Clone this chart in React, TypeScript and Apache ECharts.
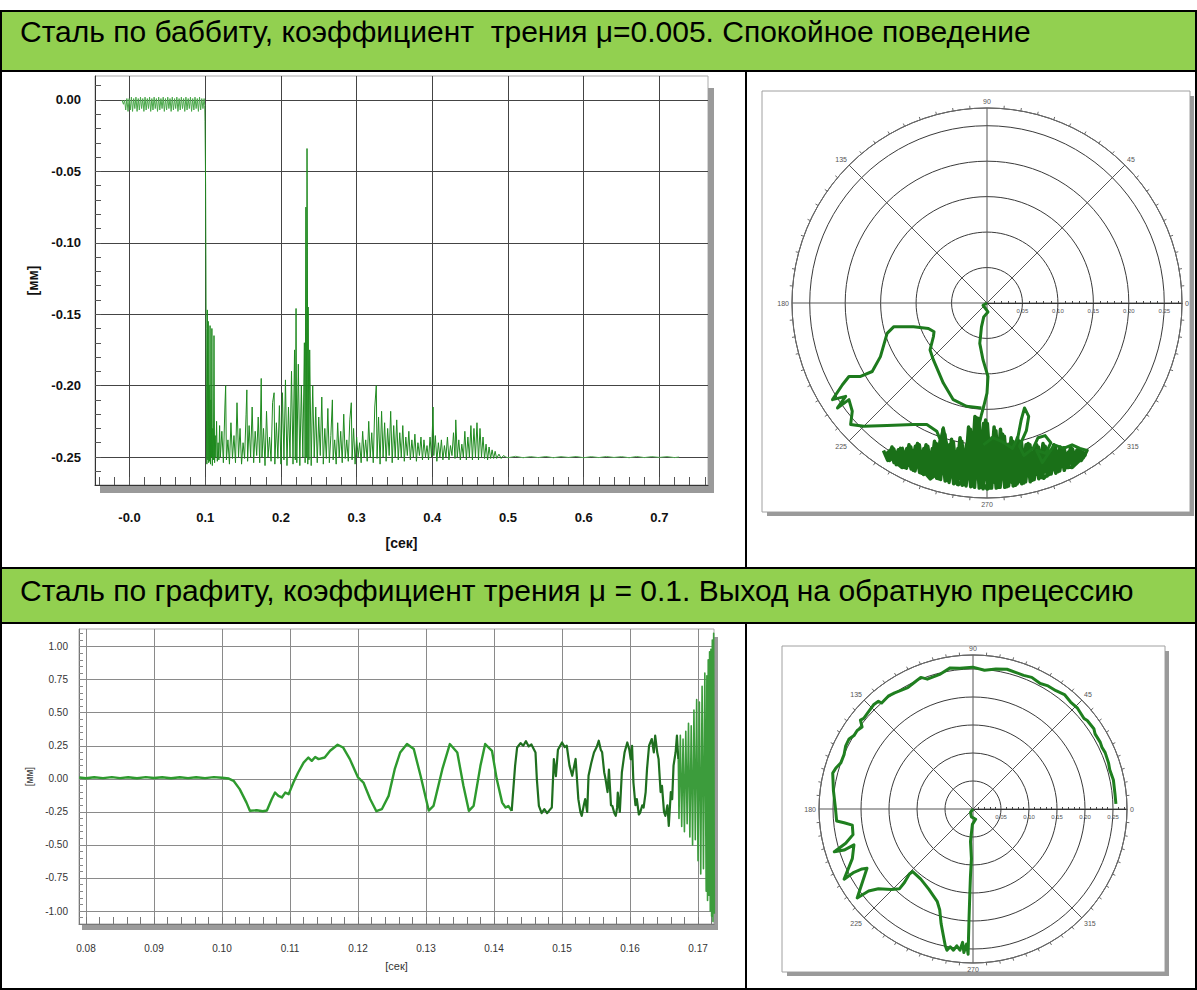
import React, { useEffect, useRef } from "react";
import * as echarts from "echarts";

// ---------- texts ----------
const headerTop = "Сталь по баббиту, коэффициент  трения μ=0.005. Спокойное поведение";
const headerBottom = "Сталь по графиту, коэффициент трения μ = 0.1. Выход на обратную прецессию";
const unitTime = "[сек]";
const unitMm = "[мм]";

// ---------- top-left chart ticks ----------
const topXTicks = [0, 0.1, 0.2, 0.3, 0.4, 0.5, 0.6, 0.7];
const topXLabels = ["-0.0", "0.1", "0.2", "0.3", "0.4", "0.5", "0.6", "0.7"];
const topXMinor = [-0.04, -0.02, 0, 0.02, 0.04, 0.06, 0.08, 0.1, 0.12, 0.14, 0.16, 0.18, 0.2, 0.22, 0.24, 0.26, 0.28, 0.3, 0.32, 0.34, 0.36, 0.38, 0.4, 0.42, 0.44, 0.46, 0.48, 0.5, 0.52, 0.54, 0.56, 0.58, 0.6, 0.62, 0.64, 0.66, 0.68, 0.7, 0.72, 0.74, 0.76];
const topYTicks = [0, -0.05, -0.1, -0.15, -0.2, -0.25];
const topYMinor = [0.01, 0, -0.01, -0.02, -0.03, -0.04, -0.05, -0.06, -0.07, -0.08, -0.09, -0.1, -0.11, -0.12, -0.13, -0.14, -0.15, -0.16, -0.17, -0.18, -0.19, -0.2, -0.21, -0.22, -0.23, -0.24, -0.25, -0.26];

// ---------- bottom-left chart ticks ----------
const botXTicks = [0.08, 0.09, 0.1, 0.11, 0.12, 0.13, 0.14, 0.15, 0.16, 0.17];
const botXMinor = [0.08, 0.082, 0.084, 0.086, 0.088, 0.09, 0.092, 0.094, 0.096, 0.098, 0.1, 0.102, 0.104, 0.106, 0.108, 0.11, 0.112, 0.114, 0.116, 0.118, 0.12, 0.122, 0.124, 0.126, 0.128, 0.13, 0.132, 0.134, 0.136, 0.138, 0.14, 0.142, 0.144, 0.146, 0.148, 0.15, 0.152, 0.154, 0.156, 0.158, 0.16, 0.162, 0.164, 0.166, 0.168, 0.17, 0.172];
const botYTicks = [1, 0.75, 0.5, 0.25, 0, -0.25, -0.5, -0.75, -1];
const botYMinor = [1.1, 1.05, 1, 0.95, 0.9, 0.85, 0.8, 0.75, 0.7, 0.65, 0.6, 0.55, 0.5, 0.45, 0.4, 0.35, 0.3, 0.25, 0.2, 0.15, 0.1, 0.05, 0, -0.05, -0.1, -0.15, -0.2, -0.25, -0.3, -0.35, -0.4, -0.45, -0.5, -0.55, -0.6, -0.65, -0.7, -0.75, -0.8, -0.85, -0.9, -0.95, -1, -1.05];

// ---------- polar ticks ----------
const radiusLabels = [0.05, 0.1, 0.15, 0.2, 0.25];

// ---------- top-left series (time [s], displacement [mm]) ----------
const topEarly: number[][] = [[-0.010,0.000],[-0.008,-0.003],[-0.0065,0.000],[-0.005,-0.007],[-0.0035,0.001],[-0.002,-0.008],[-0.0005,0.001],[0.001,-0.007],[0.0025,0.002],[0.004,-0.008],[0.0055,0.001],[0.007,-0.006],[0.0085,0.002],[0.010,-0.008],[0.0115,0.001],[0.013,-0.007],[0.0145,0.002],[0.016,-0.006],[0.0175,0.001],[0.019,-0.008],[0.0205,0.002],[0.022,-0.007],[0.0235,0.001],[0.025,-0.006],[0.0265,0.002],[0.028,-0.008],[0.0295,0.001],[0.031,-0.007],[0.0325,0.002],[0.034,-0.006],[0.0355,0.001],[0.037,-0.008],[0.0385,0.002],[0.040,-0.007],[0.0415,0.001],[0.043,-0.006],[0.0445,0.002],[0.046,-0.008],[0.0475,0.001],[0.049,-0.007],[0.0505,0.002],[0.052,-0.006],[0.0535,0.001],[0.055,-0.008],[0.0565,0.002],[0.058,-0.007],[0.0595,0.001],[0.061,-0.006],[0.0625,0.002],[0.064,-0.008],[0.0655,0.001],[0.067,-0.007],[0.0685,0.002],[0.070,-0.006],[0.0715,0.001],[0.073,-0.008],[0.0745,0.002],[0.076,-0.007],[0.0775,0.001],[0.079,-0.006],[0.0805,0.002],[0.082,-0.008],[0.0835,0.001],[0.085,-0.007],[0.0865,0.002],[0.088,-0.006],[0.0895,0.001],[0.091,-0.008],[0.0925,0.002],[0.094,-0.007],[0.0955,0.001],[0.097,-0.006],[0.0985,0.001],[0.0995,-0.004]];

const topMain: number[][] = [[0.0995,-0.004],[0.0998,-0.015],[0.1005,-0.06],[0.1012,-0.16],[0.1018,-0.25],[0.1022,-0.255],[0.1028,-0.147],[0.1034,-0.252],[0.104,-0.155],[0.1046,-0.254],[0.1052,-0.2],[0.1058,-0.253],[0.1064,-0.158],[0.107,-0.255],[0.1076,-0.21],[0.1082,-0.25],[0.1088,-0.16],[0.1094,-0.256],[0.11,-0.23],[0.1108,-0.252],[0.1116,-0.165],[0.1124,-0.254],[0.1132,-0.235],[0.114,-0.25],[0.115,-0.225],[0.116,-0.253],[0.117,-0.24],[0.118,-0.252],[0.119,-0.228],[0.120,-0.250],[0.122,-0.232],[0.124,-0.254],[0.126,-0.215],[0.127,-0.200],[0.128,-0.252],[0.130,-0.238],[0.132,-0.255],[0.134,-0.226],[0.136,-0.251],[0.138,-0.235],[0.140,-0.254],[0.142,-0.212],[0.144,-0.250],[0.146,-0.230],[0.148,-0.255],[0.150,-0.240],[0.152,-0.251],[0.154,-0.220],[0.155,-0.203],[0.156,-0.253],[0.158,-0.228],[0.160,-0.250],[0.162,-0.215],[0.164,-0.254],[0.166,-0.232],[0.168,-0.249],[0.170,-0.222],[0.172,-0.254],[0.174,-0.195],[0.175,-0.250],[0.177,-0.230],[0.179,-0.256],[0.181,-0.218],[0.183,-0.250],[0.185,-0.236],[0.187,-0.253],[0.189,-0.212],[0.191,-0.205],[0.192,-0.255],[0.194,-0.226],[0.196,-0.251],[0.198,-0.214],[0.200,-0.255],[0.202,-0.205],[0.204,-0.252],[0.206,-0.196],[0.208,-0.256],[0.210,-0.215],[0.212,-0.250],[0.214,-0.190],[0.216,-0.255],[0.218,-0.175],[0.219,-0.252],[0.220,-0.146],[0.221,-0.254],[0.223,-0.185],[0.225,-0.256],[0.227,-0.200],[0.229,-0.250],[0.231,-0.170],[0.232,-0.254],[0.233,-0.075],[0.2335,-0.250],[0.2345,-0.034],[0.235,-0.103],[0.2355,-0.255],[0.236,-0.145],[0.237,-0.252],[0.238,-0.175],[0.240,-0.256],[0.242,-0.200],[0.244,-0.250],[0.246,-0.215],[0.248,-0.254],[0.250,-0.222],[0.252,-0.249],[0.254,-0.208],[0.256,-0.255],[0.258,-0.230],[0.260,-0.251],[0.262,-0.216],[0.264,-0.254],[0.266,-0.235],[0.268,-0.210],[0.269,-0.252],[0.271,-0.238],[0.273,-0.255],[0.275,-0.226],[0.277,-0.250],[0.279,-0.232],[0.281,-0.254],[0.283,-0.220],[0.285,-0.251],[0.287,-0.238],[0.289,-0.253],[0.291,-0.224],[0.293,-0.212],[0.294,-0.252],[0.296,-0.230],[0.298,-0.255],[0.300,-0.236],[0.302,-0.250],[0.304,-0.240],[0.306,-0.254],[0.308,-0.232],[0.310,-0.250],[0.312,-0.238],[0.314,-0.253],[0.316,-0.225],[0.318,-0.250],[0.320,-0.233],[0.322,-0.254],[0.324,-0.215],[0.326,-0.200],[0.327,-0.251],[0.329,-0.222],[0.331,-0.255],[0.333,-0.218],[0.335,-0.250],[0.337,-0.226],[0.339,-0.253],[0.341,-0.230],[0.343,-0.249],[0.345,-0.218],[0.347,-0.254],[0.349,-0.228],[0.351,-0.250],[0.353,-0.224],[0.355,-0.252],[0.357,-0.233],[0.359,-0.250],[0.361,-0.228],[0.363,-0.253],[0.365,-0.236],[0.367,-0.249],[0.369,-0.232],[0.371,-0.252],[0.373,-0.238],[0.375,-0.250],[0.377,-0.234],[0.379,-0.253],[0.381,-0.240],[0.383,-0.249],[0.385,-0.236],[0.387,-0.252],[0.389,-0.238],[0.391,-0.250],[0.393,-0.242],[0.395,-0.252],[0.397,-0.236],[0.399,-0.250],[0.401,-0.215],[0.402,-0.249],[0.404,-0.235],[0.406,-0.253],[0.408,-0.240],[0.410,-0.250],[0.412,-0.238],[0.414,-0.252],[0.416,-0.242],[0.418,-0.250],[0.420,-0.236],[0.422,-0.252],[0.424,-0.242],[0.426,-0.249],[0.428,-0.233],[0.430,-0.251],[0.431,-0.224],[0.433,-0.250],[0.435,-0.238],[0.437,-0.252],[0.439,-0.241],[0.441,-0.250],[0.443,-0.232],[0.445,-0.252],[0.447,-0.236],[0.449,-0.250],[0.451,-0.228],[0.453,-0.252],[0.455,-0.230],[0.457,-0.250],[0.459,-0.226],[0.461,-0.252],[0.463,-0.230],[0.465,-0.250],[0.467,-0.236],[0.469,-0.251],[0.471,-0.241],[0.473,-0.252],[0.475,-0.243],[0.477,-0.251],[0.479,-0.245],[0.481,-0.251],[0.483,-0.246],[0.485,-0.251],[0.488,-0.248],[0.491,-0.251],[0.494,-0.249],[0.497,-0.250]];

const topTail: number[][] = [[0.497,-0.250],[0.500,-0.2505],[0.510,-0.2495],[0.520,-0.2505],[0.530,-0.2497],[0.540,-0.2504],[0.550,-0.2496],[0.560,-0.2505],[0.570,-0.2497],[0.580,-0.2503],[0.590,-0.2496],[0.600,-0.2505],[0.610,-0.2497],[0.620,-0.2504],[0.630,-0.2496],[0.640,-0.2503],[0.650,-0.2497],[0.660,-0.2505],[0.670,-0.2496],[0.680,-0.2504],[0.690,-0.2497],[0.700,-0.2503],[0.710,-0.2497],[0.720,-0.2504],[0.726,-0.2500]];

// ---------- bottom-left series ----------
const botSmooth: number[][] = [[0.0790,0.010],[0.0800,0.004],[0.0812,0.012],[0.0825,0.005],[0.0838,0.013],[0.0850,0.005],[0.0862,0.012],[0.0875,0.004],[0.0888,0.013],[0.0900,0.006],[0.0912,0.012],[0.0925,0.004],[0.0938,0.012],[0.0950,0.005],[0.0962,0.012],[0.0975,0.005],[0.0988,0.013],[0.1000,0.008],[0.1010,0.002],[0.1017,-0.015],[0.1026,-0.078],[0.1036,-0.18],[0.1041,-0.242],[0.1051,-0.238],[0.1060,-0.245],[0.1066,-0.24],[0.1073,-0.154],[0.1078,-0.104],[0.1083,-0.129],[0.1088,-0.141],[0.1093,-0.104],[0.1098,-0.116],[0.1105,-0.028],[0.1112,0.048],[0.1120,0.123],[0.1127,0.161],[0.1132,0.136],[0.1137,0.165],[0.1142,0.149],[0.1151,0.161],[0.1159,0.212],[0.1170,0.258],[0.1178,0.237],[0.1188,0.149],[0.1200,0.010],[0.1208,-0.028],[0.1218,-0.154],[0.1227,-0.245],[0.1235,-0.23],[0.1245,-0.129],[0.1254,0.073],[0.1262,0.199],[0.1272,0.263],[0.1282,0.225],[0.1292,0.023],[0.1304,-0.240],[0.1311,-0.205],[0.1324,0.073],[0.1335,0.263],[0.1346,0.199],[0.1355,-0.053],[0.1363,-0.242],[0.1370,-0.205],[0.1380,0.098],[0.1387,0.263],[0.1397,0.212],[0.1404,-0.002],[0.1412,-0.18],[0.1417,-0.217],[0.1421,-0.205],[0.1426,-0.242]];

const botNoisy: number[][] = [[0.1426,-0.242],[0.1431,0.098],[0.1434,0.237],[0.1439,0.27],[0.1443,0.25],[0.1447,0.285],[0.1451,0.245],[0.1455,0.26],[0.1461,0.199],[0.1463,-0.002],[0.1466,-0.205],[0.1470,-0.26],[0.1474,-0.23],[0.1478,-0.26],[0.1482,-0.235],[0.1485,-0.217],[0.1488,0.149],[0.1491,0.02],[0.1494,0.22],[0.1500,0.275],[0.1504,0.24],[0.1507,0.25],[0.1511,0.1],[0.1515,0.023],[0.1520,0.15],[0.1524,-0.154],[0.1527,-0.25],[0.1529,-0.28],[0.1532,-0.2],[0.1534,-0.154],[0.1537,-0.25],[0.1539,0.023],[0.1543,0.12],[0.1547,0.199],[0.1551,0.24],[0.1554,0.288],[0.1557,0.22],[0.1559,0.2],[0.1562,0.05],[0.1564,-0.002],[0.1567,-0.1],[0.1569,0.07],[0.1572,-0.2],[0.1574,-0.205],[0.1577,-0.26],[0.1579,-0.28],[0.1581,-0.22],[0.1582,-0.104],[0.1585,-0.25],[0.1588,0.048],[0.1592,0.2],[0.1596,0.275],[0.1599,0.22],[0.1601,0.149],[0.1603,0.25],[0.1605,-0.028],[0.1608,-0.2],[0.1610,-0.154],[0.1613,-0.27],[0.1615,-0.255],[0.1618,-0.2],[0.1620,-0.217],[0.1623,-0.1],[0.1625,0.073],[0.1628,0.25],[0.1632,0.301],[0.1635,0.2],[0.1637,0.326],[0.1640,0.2],[0.1642,0.149],[0.1645,-0.1],[0.1647,-0.053],[0.1650,-0.25],[0.1652,-0.28],[0.1655,-0.2],[0.1657,-0.356],[0.1660,-0.1],[0.1662,-0.154],[0.1664,0.1],[0.1667,0.199],[0.1669,0.326],[0.1671,0.15]];

const botBurst: number[][] = [[0.1671,0.15],[0.1672,-0.30],[0.1674,0.33],[0.1676,-0.36],[0.1678,0.30],[0.1680,-0.40],[0.1682,0.36],[0.1684,-0.34],[0.1686,0.42],[0.1688,-0.44],[0.1690,0.40],[0.1692,-0.50],[0.1694,0.52],[0.1696,-0.46],[0.1698,0.60],[0.1700,-0.62],[0.1702,0.58],[0.1704,-0.72],[0.1706,0.70],[0.1708,-0.68],[0.1710,0.80],[0.1712,-0.85],[0.1713,0.78],[0.1714,-0.92],[0.1715,0.90],[0.1716,-0.88],[0.1717,0.96],[0.1718,-1.00],[0.1719,0.98],[0.1720,-1.04],[0.1721,1.05],[0.1722,-1.08],[0.1723,1.10],[0.1724,-1.02]];

// ---------- top polar orbit (x, y in mm) ----------
const orbitTopStrand: number[][] = [[0,0],[-0.0056,-0.0032],[0.0014,-0.0126],[-0.0046,-0.0196],[-0.0078,-0.0336],[-0.0102,-0.0569],[-0.0056,-0.0803],[0.0014,-0.1036],[0,-0.127],[-0.0046,-0.1456],[-0.0078,-0.1573],[-0.0125,-0.178],[-0.008,-0.205],[-0.016,-0.232],[-0.01,-0.258]];
const orbitTopLoop: number[][] = [[-0.0078,-0.148],[-0.0289,-0.1456],[-0.0476,-0.1363],[-0.0616,-0.1129],[-0.0756,-0.0803],[-0.0803,-0.0662],[-0.0756,-0.0476],[-0.0747,-0.0406],[-0.0826,-0.0359],[-0.1036,-0.0336],[-0.1317,-0.0336],[-0.1409,-0.0429],[-0.1503,-0.0756],[-0.1619,-0.0966],[-0.1783,-0.1036],[-0.1947,-0.1036],[-0.2039,-0.1153],[-0.2179,-0.1363],[-0.1993,-0.1317],[-0.2109,-0.148],[-0.1947,-0.1363],[-0.19,-0.1527],[-0.1923,-0.1713],[-0.1737,-0.1737],[-0.1409,-0.1727],[-0.1036,-0.1713],[-0.0849,-0.1713],[-0.0709,-0.1807],[-0.0662,-0.1923],[-0.068,-0.212]];
const orbitTopSpike: number[][] = [[-0.072,-0.222],[-0.0616,-0.176],[-0.057,-0.198],[-0.052,-0.226]];
const orbitTopCluster: number[][] = [[-0.146,-0.208],[-0.14,-0.222],[-0.134,-0.203],[-0.128,-0.228],[-0.122,-0.205],[-0.116,-0.232],[-0.11,-0.2],[-0.104,-0.236],[-0.098,-0.198],[-0.092,-0.24],[-0.086,-0.2],[-0.08,-0.245],[-0.074,-0.195],[-0.068,-0.248],[-0.062,-0.178],[-0.056,-0.25],[-0.05,-0.192],[-0.044,-0.254],[-0.038,-0.19],[-0.032,-0.256],[-0.026,-0.175],[-0.02,-0.258],[-0.014,-0.162],[-0.008,-0.26],[-0.002,-0.165],[0.004,-0.261],[0.01,-0.175],[0.016,-0.26],[0.022,-0.185],[0.028,-0.259],[0.034,-0.19],[0.04,-0.257],[0.046,-0.195],[0.052,-0.254],[0.058,-0.198],[0.064,-0.25],[0.07,-0.2],[0.076,-0.246],[0.082,-0.202],[0.088,-0.242],[0.094,-0.2],[0.1,-0.238],[0.106,-0.205],[0.112,-0.232],[0.118,-0.203],[0.124,-0.226],[0.13,-0.206],[0.136,-0.218],[0.141,-0.208],[0.139,-0.212],[0.133,-0.222],[0.127,-0.207],[0.121,-0.229],[0.115,-0.21],[0.109,-0.236],[0.103,-0.203],[0.097,-0.24],[0.091,-0.21],[0.085,-0.244],[0.079,-0.198],[0.073,-0.248],[0.067,-0.205],[0.061,-0.252],[0.055,-0.2],[0.049,-0.255],[0.043,-0.19],[0.037,-0.258],[0.031,-0.2],[0.025,-0.26],[0.019,-0.178],[0.013,-0.261],[0.007,-0.19],[0.001,-0.262],[-0.005,-0.17],[-0.011,-0.261],[-0.017,-0.16],[-0.023,-0.259],[-0.029,-0.2],[-0.035,-0.257],[-0.041,-0.205],[-0.047,-0.255],[-0.053,-0.2],[-0.059,-0.251],[-0.065,-0.19],[-0.071,-0.247],[-0.077,-0.205],[-0.083,-0.243],[-0.089,-0.205],[-0.095,-0.239],[-0.101,-0.202],[-0.107,-0.234],[-0.113,-0.205],[-0.119,-0.23],[-0.125,-0.207],[-0.131,-0.225],[-0.137,-0.208],[-0.143,-0.215],[-0.14,-0.215],[-0.12,-0.232],[-0.1,-0.225],[-0.08,-0.248],[-0.06,-0.232],[-0.04,-0.256],[-0.02,-0.238],[0,-0.262],[0.02,-0.24],[0.04,-0.257],[0.06,-0.235],[0.08,-0.247],[0.1,-0.228],[0.12,-0.232],[0.138,-0.215],[0.1385,-0.214],[0.1325,-0.209],[0.1265,-0.226],[0.1205,-0.206],[0.1145,-0.232],[0.1085,-0.204],[0.1025,-0.237],[0.0965,-0.203],[0.0905,-0.241],[0.0845,-0.206],[0.0785,-0.245],[0.0725,-0.203],[0.0665,-0.249],[0.0605,-0.2],[0.0545,-0.252],[0.0485,-0.196],[0.0425,-0.255],[0.0365,-0.195],[0.0305,-0.258],[0.0245,-0.188],[0.0185,-0.26],[0.0125,-0.18],[0.0065,-0.261],[0.0005,-0.17],[-0.0055,-0.262],[-0.0115,-0.163],[-0.0175,-0.26],[-0.0235,-0.178],[-0.0295,-0.258],[-0.0355,-0.195],[-0.0415,-0.256],[-0.0475,-0.196],[-0.0535,-0.253],[-0.0595,-0.185],[-0.0655,-0.249],[-0.0715,-0.198],[-0.0775,-0.246],[-0.0835,-0.202],[-0.0895,-0.242],[-0.0955,-0.2],[-0.1015,-0.237],[-0.1075,-0.203],[-0.1135,-0.233],[-0.1195,-0.205],[-0.1255,-0.228],[-0.1315,-0.206],[-0.1375,-0.222],[-0.1435,-0.21]];
const orbitTopRight: number[][] = [[-0.005,-0.2],[0.008,-0.19],[0.022,-0.196],[0.036,-0.205],[0.0434,-0.19],[0.0482,-0.165],[0.0529,-0.148],[0.0588,-0.16],[0.0555,-0.18],[0.0458,-0.2017],[0.052,-0.215],[0.065,-0.205],[0.072,-0.19],[0.082,-0.187],[0.09,-0.197],[0.083,-0.212],[0.07,-0.208],[0.078,-0.225],[0.095,-0.2],[0.108,-0.205],[0.12,-0.2],[0.131,-0.205],[0.141,-0.208]];

// ---------- bottom polar orbit (x, y in mm) ----------
const orbitBottom: number[][] = [[0.2552,0.0092],[0.2535,0.0275],[0.2507,0.0518],[0.2442,0.0701],[0.242,0.0824],[0.236,0.1007],[0.2302,0.1104],[0.2273,0.119],[0.218,0.1342],[0.2158,0.1434],[0.204,0.158],[0.1983,0.1617],[0.1866,0.18],[0.1743,0.191],[0.1633,0.2044],[0.1481,0.2112],[0.1341,0.2198],[0.1201,0.224],[0.1049,0.235],[0.0904,0.2386],[0.0759,0.2441],[0.0607,0.2496],[0.0409,0.2502],[0.0205,0.2478],[-0.0005,0.2533],[-0.0233,0.2515],[-0.0407,0.252],[-0.0582,0.241],[-0.0815,0.2319],[-0.0932,0.235],[-0.1049,0.2258],[-0.1164,0.2167],[-0.1399,0.2075],[-0.1514,0.2015],[-0.1631,0.1892],[-0.1689,0.1923],[-0.1776,0.1861],[-0.1864,0.174],[-0.1951,0.1617],[-0.201,0.1586],[-0.1981,0.1465],[-0.2068,0.1403],[-0.2126,0.1311],[-0.2213,0.1251],[-0.2273,0.1128],[-0.2301,0.0976],[-0.236,0.0824],[-0.2448,0.0733],[-0.2505,0.0641],[-0.2493,0.0335],[-0.2458,0.0029],[-0.2435,-0.0214],[-0.2301,-0.0245],[-0.2155,-0.0288],[-0.2143,-0.0458],[-0.2273,-0.0612],[-0.2476,-0.0764],[-0.2301,-0.0733],[-0.2126,-0.0641],[-0.2155,-0.0886],[-0.2301,-0.1253],[-0.2126,-0.113],[-0.1981,-0.107],[-0.1893,-0.1057],[-0.2068,-0.1588],[-0.1864,-0.1465],[-0.1689,-0.1423],[-0.1456,-0.1436],[-0.1311,-0.1423],[-0.1224,-0.1313],[-0.1136,-0.1161],[-0.1077,-0.1117],[-0.0932,-0.1253],[-0.0787,-0.1436],[-0.064,-0.1648],[-0.0594,-0.1802],[-0.057,-0.2046],[-0.0524,-0.2289],[-0.0495,-0.2443],[-0.0465,-0.2522],[-0.0407,-0.2461],[-0.035,-0.2522],[-0.029,-0.2443],[-0.0233,-0.2522],[-0.0185,-0.2381],[-0.0163,-0.2564],[-0.0115,-0.2412],[-0.0087,-0.2595],[-0.008,-0.2289],[-0.007,-0.1923],[-0.0058,-0.1557],[-0.0045,-0.119],[-0.0028,-0.0886],[-0.0045,-0.058],[-0.0011,-0.0275],[0.0047,-0.0183],[-0.0028,-0.0141],[-0.0045,-0.0062],[0,0]];

const GREEN_HEAD = "#92D050";
const FONT = '"Liberation Sans", Arial, sans-serif';
const NARROW = '"Liberation Sans Narrow", "Liberation Sans", Arial, sans-serif';

function near(a: number, b: number) {
  return Math.abs(a - b) < 1e-9;
}

function lineSeries(data: number[][], axis: number, color: string, width: number) {
  return {
    type: "line",
    data,
    xAxisIndex: axis,
    yAxisIndex: axis,
    showSymbol: false,
    symbol: "none",
    silent: true,
    lineStyle: { color, width, join: "round" },
    itemStyle: { color },
    z: 5,
  };
}

function minorAxis(grid: number, pos: string, min: number, max: number, values: number[], len: number, color: string) {
  return {
    gridIndex: grid,
    type: "value",
    position: pos,
    min,
    max,
    axisLine: { show: false, onZero: false },
    axisTick: { show: true, inside: true, length: len, customValues: values, lineStyle: { color, width: 1 } },
    axisLabel: { show: false },
    splitLine: { show: false },
  };
}

function hiddenAxis(grid: number) {
  return { gridIndex: grid, type: "value", min: -0.275, max: 0.275, show: false, axisLine: { onZero: false }, splitLine: { show: false } };
}

function polarAngle(idx: number) {
  return {
    polarIndex: idx,
    type: "value",
    min: 0,
    max: 360,
    interval: 45,
    startAngle: 0,
    clockwise: false,
    axisLine: { show: true, lineStyle: { color: "#6a6a6a", width: 1 } },
    axisTick: { show: false },
    minorTick: { show: true, splitNumber: 9, length: 3, lineStyle: { color: "#6a6a6a" } },
    axisLabel: { fontSize: 7, color: "#555", margin: 3, fontFamily: FONT, formatter: (v: number) => (v >= 360 ? "" : String(v)) },
    splitLine: { show: true, lineStyle: { color: "#555", width: 1 } },
  };
}

function polarRadius(idx: number) {
  return {
    polarIndex: idx,
    type: "value",
    min: 0,
    max: 0.275,
    interval: 0.05,
    axisLine: { show: true, lineStyle: { color: "#333", width: 1 } },
    axisTick: { show: false },
    minorTick: { show: true, splitNumber: 5, length: 2, lineStyle: { color: "#444" } },
    axisLabel: { customValues: radiusLabels, fontSize: 6, color: "#555", fontFamily: FONT, margin: -11, formatter: (v: number) => v.toFixed(2) },
    splitLine: { show: true, lineStyle: { color: "#3a3a3a", width: 1 } },
  };
}

function buildOption() {
  const topLabelStyle = { fontSize: 13, fontWeight: "bold", fontFamily: NARROW, color: "#111" };
  const botLabelStyle = { fontSize: 10, fontFamily: NARROW, color: "#333" };
  const shadow = "#9a9a9a";
  const headFont = `30px ${FONT}`;
  return {
    animation: false,
    backgroundColor: "#ffffff",
    textStyle: { fontFamily: FONT },
    grid: [
      { left: 95, top: 76, width: 613, height: 409, show: true, borderColor: "#aaaaaa", borderWidth: 1, backgroundColor: "#fff", containLabel: false },
      { left: 79, top: 629, width: 635, height: 295, show: true, borderColor: "#aaaaaa", borderWidth: 1, backgroundColor: "#fff", containLabel: false },
      { left: 792, top: 108, width: 390, height: 390, show: false },
      { left: 819, top: 655, width: 308, height: 308, show: false },
    ],
    xAxis: [
      {
        gridIndex: 0, type: "value", position: "bottom", min: -0.0456, max: 0.7642,
        axisLine: { show: true, onZero: false, lineStyle: { color: "#333", width: 1 } },
        axisTick: { show: false, customValues: topXTicks },
        axisLabel: { ...topLabelStyle, customValues: topXTicks, margin: 26, formatter: (v: number) => { const i = topXTicks.findIndex((t) => near(t, v)); return i >= 0 ? topXLabels[i] : ""; } },
        splitLine: { show: true, lineStyle: { color: "#444", width: 1 } },
        name: unitTime, nameLocation: "middle", nameGap: 51, nameTextStyle: { fontSize: 14, fontWeight: "bold", fontFamily: FONT, color: "#111" },
      },
      minorAxis(0, "bottom", -0.0456, 0.7642, topXMinor, 8, "#555"),
      {
        gridIndex: 1, type: "value", position: "bottom", min: 0.07897, max: 0.17235,
        axisLine: { show: true, onZero: false, lineStyle: { color: "#777", width: 1 } },
        axisTick: { show: false, customValues: botXTicks },
        axisLabel: { ...botLabelStyle, customValues: botXTicks, margin: 19, formatter: (v: number) => v.toFixed(2) },
        splitLine: { show: true, lineStyle: { color: "#8a8a8a", width: 1 } },
        name: unitTime, nameLocation: "middle", nameGap: 36, nameTextStyle: { fontSize: 11, fontFamily: FONT, color: "#333" },
      },
      minorAxis(1, "bottom", 0.07897, 0.17235, botXMinor, 7, "#777"),
      hiddenAxis(2),
      hiddenAxis(3),
    ],
    yAxis: [
      {
        gridIndex: 0, type: "value", position: "left", min: -0.2696, max: 0.0168,
        axisLine: { show: true, onZero: false, lineStyle: { color: "#333", width: 1 } },
        axisTick: { show: false, customValues: topYTicks },
        axisLabel: { ...topLabelStyle, customValues: topYTicks, margin: 14, formatter: (v: number) => v.toFixed(2) },
        splitLine: { show: true, lineStyle: { color: "#444", width: 1 } },
        name: unitMm, nameLocation: "middle", nameGap: 54, nameTextStyle: { fontSize: 14, fontWeight: "bold", fontFamily: FONT, color: "#111" },
      },
      minorAxis(0, "left", -0.2696, 0.0168, topYMinor, 6, "#555"),
      {
        gridIndex: 1, type: "value", position: "left", min: -1.098, max: 1.133,
        axisLine: { show: true, onZero: false, lineStyle: { color: "#777", width: 1 } },
        axisTick: { show: false, customValues: botYTicks },
        axisLabel: { ...botLabelStyle, customValues: botYTicks, margin: 11, formatter: (v: number) => v.toFixed(2) },
        splitLine: { show: true, lineStyle: { color: "#8a8a8a", width: 1 } },
        name: unitMm, nameLocation: "middle", nameGap: 40, nameTextStyle: { fontSize: 10, fontFamily: FONT, color: "#333" },
      },
      minorAxis(1, "left", -1.098, 1.133, botYMinor, 4, "#888"),
      hiddenAxis(2),
      hiddenAxis(3),
    ],
    polar: [
      { center: [987, 303], radius: 195 },
      { center: [973, 809], radius: 154 },
    ],
    angleAxis: [polarAngle(0), polarAngle(1)],
    radiusAxis: [polarRadius(0), polarRadius(1)],
    series: [
      lineSeries(topEarly, 0, "#4aa84a", 1),
      lineSeries(topMain, 0, "#1f8a1f", 1),
      lineSeries(topTail, 0, "#55aa55", 1),
      lineSeries(botSmooth, 2, "#2e9a2e", 2.4),
      lineSeries(botNoisy, 2, "#1f6f1f", 2.2),
      lineSeries(botBurst, 2, "#3c9c3c", 1.6),
      lineSeries(orbitTopStrand, 4, "#1d7a1d", 3),
      lineSeries(orbitTopLoop, 4, "#1d7a1d", 3),
      lineSeries(orbitTopSpike, 4, "#1d7a1d", 3),
      lineSeries(orbitTopCluster, 4, "#1a7018", 3.5),
      lineSeries(orbitTopRight, 4, "#1d7a1d", 3),
      lineSeries(orbitBottom, 5, "#1f7f1f", 3),
    ],
    graphic: {
      elements: [
        { type: "rect", shape: { x: 1, y: 11, width: 1195, height: 60 }, style: { fill: GREEN_HEAD, stroke: "#000", lineWidth: 2 } },
        { type: "text", x: 20, y: 31, style: { text: headerTop, font: headFont, fill: "#000", textAlign: "left", textVerticalAlign: "middle" } },
        { type: "rect", shape: { x: 1, y: 568, width: 1195, height: 55 }, style: { fill: GREEN_HEAD, stroke: "#000", lineWidth: 2 } },
        { type: "text", x: 20, y: 590, style: { text: headerBottom, font: headFont, fill: "#000", textAlign: "left", textVerticalAlign: "middle" } },
        { type: "rect", shape: { x: 1, y: 11, width: 1195, height: 978 }, style: { fill: "none", stroke: "#000", lineWidth: 2 } },
        { type: "line", shape: { x1: 746, y1: 71, x2: 746, y2: 568 }, style: { stroke: "#000", lineWidth: 2 } },
        { type: "line", shape: { x1: 746, y1: 623, x2: 746, y2: 989 }, style: { stroke: "#000", lineWidth: 2 } },
        { type: "rect", shape: { x: 708, y: 88, width: 6, height: 405 }, style: { fill: shadow } },
        { type: "rect", shape: { x: 100, y: 486, width: 614, height: 7 }, style: { fill: shadow } },
        { type: "rect", shape: { x: 714, y: 637, width: 4, height: 293 }, style: { fill: shadow } },
        { type: "rect", shape: { x: 82, y: 924, width: 636, height: 6 }, style: { fill: shadow } },
        { type: "rect", shape: { x: 762, y: 91, width: 428, height: 421 }, style: { fill: "none", stroke: "#a0a0a0", lineWidth: 1 } },
        { type: "rect", shape: { x: 1190, y: 96, width: 4, height: 420 }, style: { fill: shadow } },
        { type: "rect", shape: { x: 767, y: 512, width: 427, height: 4 }, style: { fill: shadow } },
        { type: "rect", shape: { x: 782, y: 646, width: 383, height: 326 }, style: { fill: "none", stroke: "#a0a0a0", lineWidth: 1 } },
        { type: "rect", shape: { x: 1165, y: 651, width: 4, height: 325 }, style: { fill: shadow } },
        { type: "rect", shape: { x: 787, y: 972, width: 382, height: 4 }, style: { fill: shadow } },
      ],
    },
  };
}

export default function App() {
  const ref = useRef<HTMLDivElement | null>(null);
  useEffect(() => {
    if (!ref.current) return;
    const chart = echarts.init(ref.current, undefined, { renderer: "svg" });
    chart.setOption(buildOption() as any);
    return () => chart.dispose();
  }, []);
  return <div ref={ref} style={{ position: "fixed", left: 0, top: 0, width: 1197, height: 990, background: "#fff" }} />;
}
